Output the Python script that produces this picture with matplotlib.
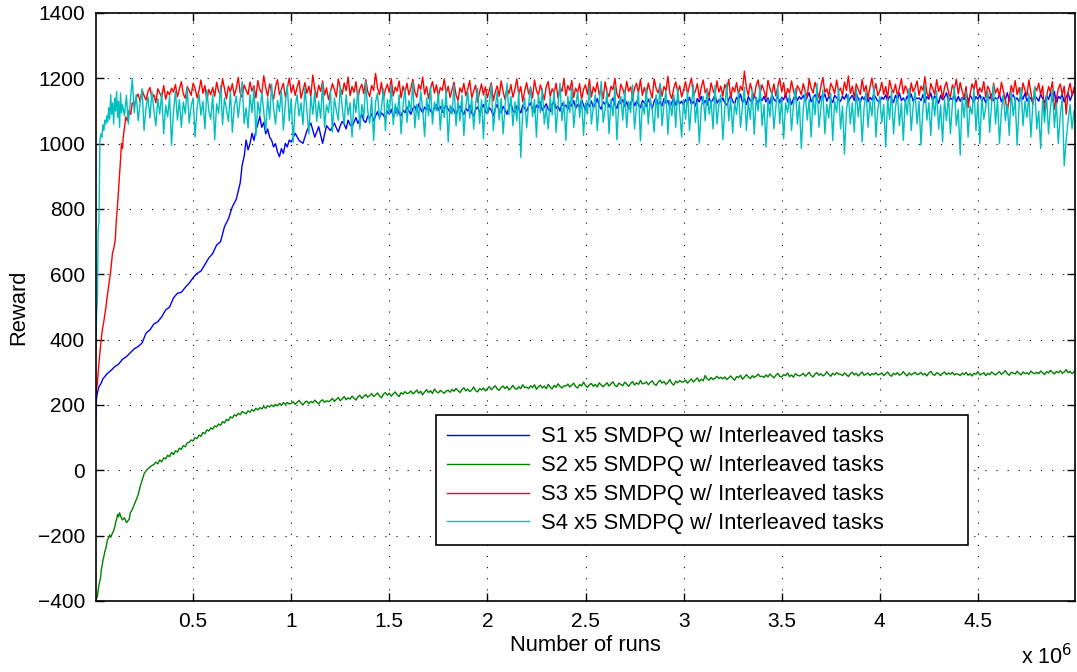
import numpy as np
import matplotlib
matplotlib.use("Agg")
import matplotlib.pyplot as plt
from matplotlib.ticker import FuncFormatter, MultipleLocator

# Number of runs is given in millions (x 10^6); tails are sampled every STEP
STEP = 0.01

# ---- S1 ----
s1_early_x = [0.003, 0.005, 0.01, 0.015, 0.02, 0.03, 0.04, 0.05, 0.06, 0.08, 0.1, 0.12, 0.14, 0.16,
              0.18, 0.2, 0.22, 0.24, 0.26, 0.28, 0.3, 0.32, 0.34, 0.36, 0.38, 0.4, 0.42, 0.44, 0.46,
              0.48, 0.5, 0.52, 0.54, 0.56, 0.58, 0.6, 0.62, 0.64, 0.66, 0.68, 0.7, 0.72, 0.74, 0.75,
              0.76, 0.77, 0.78, 0.79, 0.8, 0.81, 0.82, 0.83, 0.84, 0.85, 0.86, 0.87, 0.88, 0.89, 0.9,
              0.91, 0.92, 0.93, 0.94, 0.95, 0.96, 0.97, 0.98, 0.99, 1.0, 1.02, 1.04, 1.06, 1.08, 1.1,
              1.12, 1.14, 1.16, 1.18]
s1_early_y = [110, 206, 230, 245, 256, 265, 280, 287, 295, 305, 317, 325, 340, 348,
              360, 372, 379, 390, 420, 430, 448, 455, 470, 491, 500, 528, 542, 545, 560,
              573, 590, 603, 610, 630, 650, 664, 690, 700, 746, 770, 807, 830, 880, 935,
              960, 1011, 981, 1000, 1032, 1010, 1040, 1060, 1083, 1050, 1065, 1030, 1045, 1020, 1011,
              990, 1000, 975, 960, 985, 970, 1001, 990, 1011, 1005, 1032, 1010, 1001, 1040, 1063,
              1020, 1052, 1001, 1055]
s1_tail_start = 1.20
s1_tail = [1040, 1052, 1063, 1048, 1036, 1055, 1068, 1060, 1045, 1072, 1058, 1050, 1066, 1080, 1062, 1075, 1090, 1070, 1065, 1085,
           1078, 1092, 1070, 1085, 1098, 1080, 1094, 1088, 1075, 1100, 1090, 1105, 1082, 1096, 1110, 1092, 1085, 1102, 1095, 1112,
           1100, 1090, 1108, 1115, 1098, 1122, 1105, 1095, 1112, 1104, 1118, 1100, 1092, 1110, 1120, 1102, 1114, 1096, 1108, 1118,
           1105, 1095, 1112, 1100, 1088, 1106, 1115, 1098, 1090, 1108, 1100, 1118, 1094, 1085, 1105, 1112, 1096, 1108, 1120, 1098,
           1092, 1110, 1102, 1085, 1108, 1120, 1100, 1095, 1114, 1104, 1090, 1112, 1125, 1100, 1096, 1115, 1106, 1094, 1118, 1108,
           1100, 1115, 1125, 1105, 1096, 1118, 1110, 1128, 1102, 1112, 1122, 1106, 1098, 1120, 1130, 1108, 1115, 1100, 1124, 1112,
           1118, 1105, 1128, 1115, 1132, 1108, 1120, 1112, 1135, 1118, 1102, 1125, 1114, 1130, 1110, 1122, 1138, 1115, 1106, 1128,
           1120, 1132, 1112, 1126, 1140, 1118, 1108, 1130, 1122, 1135, 1114, 1128, 1106, 1124, 1138, 1116, 1130, 1120, 1110, 1132,
           1126, 1114, 1136, 1122, 1108, 1130, 1142, 1120, 1128, 1115, 1138, 1124, 1132, 1110, 1126, 1140, 1118, 1134, 1122, 1130,
           1118, 1135, 1125, 1142, 1120, 1130, 1115, 1138, 1128, 1145, 1122, 1132, 1118, 1140, 1126, 1136, 1150, 1124, 1134, 1128,
           1140, 1125, 1118, 1135, 1148, 1130, 1122, 1142, 1134, 1152, 1126, 1138, 1120, 1144, 1132, 1128, 1146, 1136, 1124, 1140,
           1132, 1145, 1128, 1140, 1122, 1150, 1136, 1130, 1148, 1125, 1142, 1134, 1155, 1128, 1140, 1120, 1138, 1150, 1132, 1144,
           1136, 1148, 1130, 1142, 1156, 1128, 1140, 1150, 1134, 1124, 1146, 1138, 1152, 1130, 1144, 1136, 1126, 1148, 1140, 1134,
           1130, 1145, 1136, 1152, 1128, 1140, 1148, 1132, 1155, 1138, 1126, 1144, 1135, 1150, 1128, 1142, 1134, 1152, 1140, 1130,
           1128, 1142, 1136, 1150, 1130, 1145, 1138, 1126, 1148, 1134, 1155, 1132, 1140, 1128, 1146, 1136, 1152, 1130, 1142, 1138,
           1140, 1132, 1150, 1126, 1144, 1136, 1155, 1130, 1146, 1138, 1124, 1148, 1134, 1142, 1156, 1130, 1140, 1135, 1150, 1128,
           1145, 1130, 1142, 1135, 1155, 1128, 1148, 1138, 1126, 1144, 1136, 1150, 1130, 1142, 1125, 1148, 1138, 1152, 1132, 1140,
           1136, 1150, 1128, 1146, 1135, 1156, 1130, 1142, 1150, 1134, 1140, 1128, 1148, 1136, 1155, 1130, 1144, 1138, 1126, 1146,
           1140, 1130, 1152, 1138, 1125, 1148, 1135, 1156, 1130, 1160, 1120, 1145, 1138, 1150, 1128, 1142, 1155, 1132, 1148, 1162]

# ---- S2 ----
s2_early_x = [0.002, 0.006, 0.012, 0.02, 0.025, 0.029, 0.033, 0.037, 0.041, 0.045, 0.05, 0.055,
              0.06, 0.063, 0.07, 0.075, 0.08, 0.089, 0.095, 0.1, 0.105, 0.11, 0.115, 0.12, 0.125,
              0.132, 0.14, 0.15, 0.16, 0.174, 0.18, 0.19, 0.2, 0.209, 0.22, 0.23, 0.24, 0.251,
              0.26, 0.27, 0.28, 0.29]
s2_early_y = [-400, -395, -385, -350, -338, -325, -300, -290, -272, -264, -248, -240,
              -222, -213, -206, -198, -205, -192, -185, -175, -160, -150, -135, -142, -130,
              -142, -152, -145, -160, -150, -130, -120, -105, -91, -75, -50, -30, -9,
              -2, 5, 10, 15]
s2_tail_start = 0.30
s2_mid = [18, 25, 20, 32, 26, 38, 35, 46, 42, 55, 48, 60, 56, 68, 64, 76, 72, 84, 86, 93,
          90, 100, 97, 108, 104, 116, 112, 124, 120, 130, 126, 136, 133, 142, 138, 149, 145, 156, 152, 164,
          160, 170, 166, 175, 170, 180, 177, 173, 182, 178, 186, 181, 190, 185, 192, 188, 195, 190, 198, 194,
          200, 195, 202, 197, 205, 199, 207, 202, 208, 203]
s2_tail = [205, 210, 202, 208, 214, 206, 200, 209, 212, 204, 211, 207, 215, 209, 203, 212, 216, 208, 213, 210,
           214, 220, 211, 217, 223, 213, 219, 226, 216, 222, 218, 227, 221, 215, 225, 230, 220, 226, 232, 224,
           229, 235, 226, 231, 237, 228, 222, 233, 238, 230, 236, 227, 234, 240, 231, 226, 238, 233, 241, 235,
           237, 243, 234, 239, 246, 236, 242, 231, 240, 247, 238, 244, 235, 249, 241, 237, 245, 240, 236, 243,
           245, 239, 248, 242, 251, 244, 238, 247, 253, 243, 249, 241, 246, 255, 244, 240, 250, 246, 252, 243,
           250, 256, 247, 253, 259, 249, 245, 254, 258, 250, 257, 246, 252, 260, 251, 248, 256, 250, 262, 253,
           255, 250, 259, 253, 262, 248, 256, 261, 252, 258, 250, 263, 255, 249, 260, 254, 265, 257, 252, 259,
           258, 264, 255, 261, 267, 256, 252, 263, 258, 270, 260, 254, 262, 266, 257, 263, 255, 268, 261, 256,
           262, 268, 258, 265, 271, 260, 256, 267, 263, 259, 270, 264, 257, 266, 272, 261, 268, 263, 275, 265,
           266, 271, 262, 269, 274, 264, 260, 270, 276, 267, 272, 263, 269, 278, 266, 261, 273, 268, 275, 270,
           271, 276, 267, 274, 280, 270, 277, 283, 272, 279, 274, 290, 280, 276, 284, 278, 282, 288, 281, 285,
           280, 286, 278, 283, 289, 282, 276, 287, 284, 291, 279, 285, 293, 286, 281, 290, 284, 288, 295, 287,
           288, 284, 292, 286, 295, 289, 283, 291, 297, 288, 286, 293, 290, 298, 287, 292, 285, 296, 291, 289,
           292, 297, 288, 294, 300, 290, 286, 295, 299, 291, 296, 289, 293, 302, 294, 288, 297, 292, 299, 295,
           294, 290, 298, 293, 287, 296, 300, 292, 297, 289, 295, 301, 291, 294, 298, 290, 296, 293, 299, 292,
           294, 298, 290, 296, 301, 292, 288, 297, 293, 299, 291, 295, 302, 294, 289, 298, 292, 296, 300, 293,
           295, 300, 292, 297, 289, 298, 303, 294, 291, 299, 296, 290, 297, 301, 293, 298, 294, 300, 292, 296,
           294, 290, 298, 293, 300, 291, 296, 289, 297, 294, 302, 292, 295, 299, 290, 297, 293, 301, 296, 292,
           297, 302, 294, 299, 305, 296, 291, 300, 298, 295, 303, 297, 292, 301, 296, 299, 294, 304, 298, 296,
           300, 296, 304, 299, 293, 302, 298, 306, 300, 295, 303, 299, 305, 297, 301, 308, 299, 303, 296, 302]

# ---- S3 ----
s3_early_x = [0.004, 0.008, 0.012, 0.016, 0.02, 0.028, 0.037, 0.046, 0.055, 0.064, 0.072, 0.08,
              0.089, 0.096, 0.103, 0.108, 0.114, 0.12, 0.127, 0.131, 0.135, 0.14, 0.144, 0.15,
              0.157, 0.165, 0.174, 0.182, 0.19]
s3_early_y = [226, 250, 267, 300, 329, 380, 430, 460, 497, 540, 574, 610,
              665, 680, 705, 760, 806, 860, 919, 960, 1001, 985, 1021, 1050,
              1082, 1070, 1103, 1090, 1125]
s3_tail_start = 0.20
s3_tail = [1118, 1140, 1152, 1128, 1165, 1147, 1133, 1160, 1172, 1139, 1150, 1125, 1168, 1155, 1142, 1178, 1136, 1160, 1149, 1170,
           1158, 1181, 1143, 1166, 1190, 1152, 1139, 1175, 1162, 1148, 1185, 1170, 1140, 1163, 1195, 1154, 1178, 1133, 1166, 1150,
           1172, 1145, 1188, 1160, 1149, 1199, 1168, 1137, 1176, 1158, 1184, 1146, 1170, 1203, 1155, 1142, 1180, 1164, 1150, 1189,
           1161, 1177, 1140, 1193, 1166, 1152, 1208, 1171, 1145, 1183, 1159, 1136, 1174, 1196, 1150, 1167, 1185, 1143, 1170, 1201,
           1156, 1180, 1148, 1172, 1194, 1139, 1163, 1187, 1154, 1176, 1145, 1210, 1168, 1141, 1179, 1160, 1192, 1149, 1171, 1135,
           1158, 1184, 1166, 1143, 1198, 1172, 1151, 1186, 1162, 1204, 1147, 1175, 1157, 1190, 1139, 1168, 1182, 1153, 1196, 1160,
           1144, 1178, 1163, 1215, 1170, 1150, 1188, 1136, 1165, 1182, 1157, 1199, 1146, 1173, 1161, 1192, 1140, 1176, 1155, 1185,
           1149, 1170, 1197, 1158, 1142, 1181, 1166, 1204, 1151, 1175, 1138, 1169, 1190, 1155, 1180, 1145, 1172, 1163, 1198, 1152,
           1176, 1141, 1166, 1188, 1150, 1132, 1171, 1157, 1185, 1146, 1168, 1193, 1139, 1162, 1179, 1127, 1158, 1183, 1149, 1174,
           1140, 1165, 1186, 1131, 1158, 1177, 1145, 1192, 1160, 1135, 1170, 1153, 1181, 1142, 1166, 1198, 1150, 1175, 1128, 1162,
           1187, 1152, 1171, 1140, 1195, 1163, 1148, 1180, 1157, 1134, 1176, 1190, 1145, 1168, 1155, 1185, 1139, 1172, 1160, 1199,
           1147, 1178, 1163, 1193, 1141, 1170, 1156, 1184, 1135, 1166, 1180, 1151, 1197, 1143, 1174, 1158, 1188, 1149, 1169, 1137,
           1189, 1158, 1144, 1176, 1165, 1200, 1152, 1139, 1182, 1167, 1147, 1191, 1160, 1174, 1136, 1170, 1185, 1155, 1196, 1148,
           1172, 1150, 1186, 1161, 1140, 1198, 1169, 1155, 1181, 1145, 1175, 1162, 1206, 1153, 1138, 1170, 1189, 1158, 1177, 1143,
           1165, 1190, 1152, 1178, 1201, 1147, 1160, 1184, 1139, 1172, 1195, 1156, 1168, 1143, 1186, 1164, 1150, 1192, 1158, 1176,
           1145, 1181, 1166, 1197, 1140, 1173, 1159, 1187, 1150, 1176, 1163, 1222, 1171, 1148, 1185, 1160, 1142, 1179, 1195, 1154,
           1180, 1162, 1139, 1194, 1170, 1151, 1183, 1146, 1175, 1200, 1158, 1187, 1141, 1169, 1155, 1192, 1163, 1137, 1178, 1166,
           1150, 1184, 1160, 1143, 1198, 1171, 1155, 1188, 1164, 1140, 1177, 1203, 1157, 1168, 1145, 1185, 1172, 1153, 1195, 1161,
           1170, 1148, 1189, 1163, 1207, 1154, 1176, 1142, 1183, 1166, 1150, 1196, 1160, 1178, 1139, 1173, 1201, 1158, 1184, 1147,
           1162, 1188, 1151, 1175, 1140, 1194, 1168, 1156, 1182, 1145, 1170, 1199, 1153, 1177, 1164, 1138, 1186, 1159, 1172, 1192,
           1148, 1176, 1163, 1205, 1155, 1141, 1184, 1168, 1150, 1196, 1160, 1178, 1137, 1172, 1189, 1157, 1143, 1180, 1166, 1198,
           1152, 1187, 1160, 1140, 1175, 1110, 1150, 1183, 1166, 1195, 1148, 1171, 1158, 1190, 1142, 1176, 1163, 1128, 1185, 1155,
           1170, 1144, 1188, 1161, 1135, 1098, 1140, 1178, 1157, 1193, 1150, 1172, 1139, 1186, 1164, 1147, 1195, 1158, 1120, 1173,
           1162, 1185, 1150, 1177, 1095, 1142, 1175, 1158, 1190, 1105, 1138, 1168, 1183, 1150, 1176, 1090, 1160, 1185, 1148, 1172]

# ---- S4 ----
s4_early_x = [0.004, 0.008, 0.012, 0.016, 0.02, 0.025, 0.03, 0.035, 0.04, 0.045, 0.05, 0.055,
              0.06, 0.065, 0.07, 0.075, 0.08, 0.085, 0.09, 0.095, 0.1, 0.105, 0.11, 0.115, 0.12,
              0.125, 0.13, 0.135]
s4_early_y = [370, 480, 520, 736, 760, 1011, 1030, 1020, 1058, 1040, 1072, 1060,
              1085, 1066, 1110, 1075, 1150, 1090, 1125, 1060, 1140, 1100, 1160, 1080, 1130,
              1050, 1155, 1095]
s4_tail_start = 0.14
s4_tail = [1120, 1085, 1148, 1060, 1132, 1200, 1095, 1150, 1070, 1125, 1168, 1040, 1110, 1143, 1078, 1160, 1102, 1055, 1138, 1090,
           1155, 1030, 1118, 1082, 1145, 995, 1100, 1160, 1072, 1135, 1050, 1128, 1092, 1170, 1063, 1115, 1140, 1020, 1108, 1152,
           1087, 1130, 1045, 1165, 1100, 1075, 1150, 1012, 1122, 1093, 1178, 1058, 1140, 1105, 1068, 1160, 1035, 1115, 1145, 1080,
           1135, 1190, 1062, 1110, 1048, 1150, 1095, 1170, 1025, 1128, 1086, 1157, 1100, 1040, 1140, 1075, 1182, 1110, 1060, 1132,
           1098, 1165, 1042, 1120, 1180, 1070, 1138, 1005, 1112, 1150, 1085, 1125, 1058, 1172, 1100, 1030, 1145, 1090, 1160, 1068,
           1130, 1078, 1185, 1050, 1118, 1095, 1162, 1035, 1140, 1102, 1072, 1176, 1110, 1060, 1150, 1088, 1125, 1020, 1138, 1095,
           1165, 1045, 1120, 1080, 1190, 1100, 1062, 1142, 1010, 1128, 1155, 1075, 1110, 1168, 1040, 1135, 1092, 1180, 1058, 1122,
           1086, 1150, 1030, 1115, 1170, 1065, 1132, 1098, 1188, 1048, 1120, 1075, 1160, 1105, 1022, 1140, 1085, 1175, 1060, 1128,
           1100, 1155, 1042, 1135, 1080, 1165, 1005, 1118, 1090, 1180, 1055, 1130, 1070, 1148, 1025, 1112, 1160, 1078, 1140, 1045,
           1120, 1170, 1062, 1135, 1015, 1150, 1092, 1125, 1180, 1040, 1108, 1160, 1072, 1138, 1030, 1115, 1185, 1088, 1145, 1055,
           1128, 1070, 1160, 958, 1100, 1140, 1048, 1120, 1175, 1082, 1135, 1020, 1150, 1095, 1168, 1060, 1110, 1045, 1142, 1088,
           1162, 1035, 1120, 1185, 1070, 1130, 1010, 1145, 1095, 1172, 1050, 1115, 1160, 1080, 1138, 1025, 1125, 1090, 1178, 1060,
           1110, 1150, 1040, 1128, 1190, 1065, 1105, 1160, 1030, 1135, 1085, 1175, 1012, 1120, 1145, 1072, 1165, 1050, 1130, 1095,
           1180, 1045, 1115, 1160, 1008, 1125, 1090, 1170, 1060, 1140, 1102, 1035, 1150, 1078, 1185, 1055, 1118, 1162, 1028, 1132,
           1085, 1150, 1050, 1170, 1100, 1020, 1135, 1075, 1160, 1040, 1118, 1180, 1065, 1128, 1002, 1110, 1145, 1070, 1165, 1090,
           1132, 1045, 1178, 1060, 1120, 1150, 1012, 1105, 1185, 1070, 1140, 1032, 1125, 1090, 1160, 1050, 1115, 1172, 1040, 1130,
           1075, 1165, 1028, 1142, 1100, 1180, 1055, 1120, 990, 1135, 1082, 1160, 1045, 1110, 1175, 1062, 1138, 1015, 1125, 1095,
           1150, 1040, 1118, 1170, 1060, 1128, 985, 1105, 1160, 1072, 1135, 1020, 1145, 1088, 1185, 1050, 1112, 1165, 1030, 1120,
           1078, 1155, 1010, 1130, 1095, 1172, 1045, 1115, 968, 1100, 1150, 1060, 1125, 1035, 1168, 1082, 1140, 1005, 1110, 1160,
           1050, 1130, 1085, 1178, 1020, 1105, 1145, 1065, 1120, 990, 1138, 1075, 1165, 1030, 1112, 1150, 1055, 1125, 1010, 1140,
           1088, 1170, 1040, 1115, 1160, 1060, 1130, 995, 1108, 1180, 1072, 1125, 1025, 1145, 1085, 1162, 1045, 1118, 1005, 1135,
           1070, 1150, 1030, 1120, 1175, 1055, 1105, 965, 1140, 1080, 1160, 1020, 1115, 1090, 1168, 1040, 1128, 1000, 1145, 1075,
           1110, 1165, 1035, 1125, 1180, 1060, 1138, 1000, 1100, 1150, 1070, 1120, 1025, 1160, 1085, 1140, 995, 1115, 1172, 1055,
           1130, 1080, 1155, 1020, 1118, 1175, 1045, 1100, 985, 1135, 1065, 1150, 1030, 1110, 1168, 1050, 1125, 1000, 1088, 1140,
           932, 1010, 1070, 1120, 1045, 1100]

labels = ["S1 x5 SMDPQ w/ Interleaved tasks",
          "S2 x5 SMDPQ w/ Interleaved tasks",
          "S3 x5 SMDPQ w/ Interleaved tasks",
          "S4 x5 SMDPQ w/ Interleaved tasks"]
colors = ["#0000ff", "#008000", "#ff0000", "#00bfbf"]


def build(early_x, early_y, tail_start, tail):
    tail_x = tail_start + STEP * np.arange(len(tail))
    return (np.concatenate([early_x, tail_x]),
            np.concatenate([early_y, tail]).astype(float))


series = [build(s1_early_x, s1_early_y, s1_tail_start, s1_tail),
          build(s2_early_x, s2_early_y, s2_tail_start, s2_mid + s2_tail),
          build(s3_early_x, s3_early_y, s3_tail_start, s3_tail),
          build(s4_early_x, s4_early_y, s4_tail_start, s4_tail)]

plt.rcParams["font.family"] = ["Liberation Sans", "DejaVu Sans"]
fig = plt.figure(figsize=(10.77, 6.72), dpi=100)
ax = fig.add_axes([96 / 1077, 71 / 672, 979 / 1077, 588 / 672])

for (x, y), c, lab in zip(series, colors, labels):
    ax.plot(x, y, color=c, lw=1.0, label=lab)

ax.set_xlim(0.005, 4.995)
ax.set_ylim(-400, 1400)
ax.xaxis.set_major_locator(MultipleLocator(0.5))
ax.yaxis.set_major_locator(MultipleLocator(200))
ax.xaxis.set_major_formatter(FuncFormatter(lambda v, p: "%g" % v))
ax.tick_params(direction="in", top=True, right=True, length=6, width=1.0,
               labelsize=15, pad=8)
ax.grid(True, color="black", linestyle=(0, (1, 9)), linewidth=0.8)
for sp in ax.spines.values():
    sp.set_linewidth(1.2)

ax.set_xlabel("Number of runs", fontsize=15.8, labelpad=3)
ax.set_ylabel("Reward", fontsize=15.8, labelpad=6)
ax.text(0.997, -0.095, "x 10$^{6}$", transform=ax.transAxes, ha="right",
        va="center", fontsize=15.5)

leg = ax.legend(loc="lower left", bbox_to_anchor=(0.347, 0.095, 0.544, 0.221),
                mode="expand", fontsize=15.8, frameon=True, fancybox=False,
                edgecolor="black", framealpha=1, handlelength=3.75,
                handletextpad=0.55, borderpad=0.5, labelspacing=0.36,
                borderaxespad=0)
leg.get_frame().set_linewidth(1.2)

fig.savefig("out.png", dpi=100)
